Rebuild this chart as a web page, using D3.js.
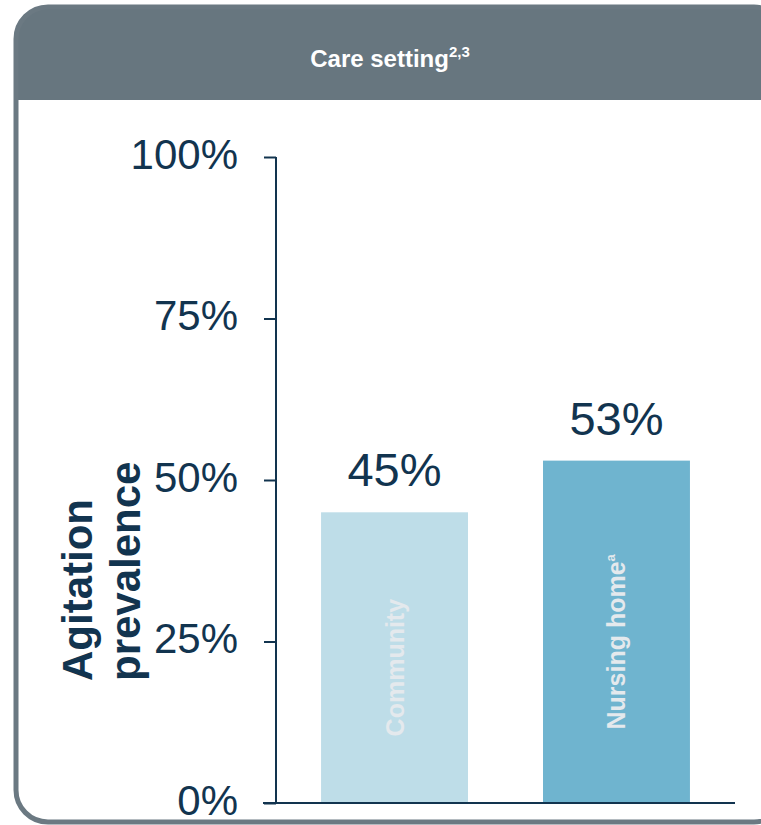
<!DOCTYPE html>
<html>
<head>
<meta charset="utf-8">
<script src="https://cdn.jsdelivr.net/npm/d3@7"></script>
<style>
  html, body { margin: 0; padding: 0; background: #fff; }
  svg { display: block; font-family: "Liberation Sans", Arial, sans-serif; }
</style>
</head>
<body>
<div id="chart"></div>
<script>
const categories = ["Community", "Nursing home"];
const superscripts = ["", "a"];
const values = [45, 53];
const yTicks = [0, 25, 50, 75, 100];
const barColors = ["#bedde8", "#6fb4cf"];

const width = 761, height = 825;
const navy = "#12344f";

const svg = d3.select("#chart")
  .append("svg")
  .attr("width", width)
  .attr("height", height);

// card with rounded border
const card = { x: 16, y: 7, w: 770, h: 815, r: 32 };

svg.append("clipPath").attr("id", "card")
  .append("rect")
  .attr("x", card.x).attr("y", card.y)
  .attr("width", card.w).attr("height", card.h)
  .attr("rx", card.r);

svg.append("rect")
  .attr("x", card.x).attr("y", card.y)
  .attr("width", card.w).attr("height", card.h)
  .attr("rx", card.r)
  .attr("fill", "#fff");

svg.append("rect")
  .attr("clip-path", "url(#card)")
  .attr("x", 0).attr("y", 0)
  .attr("width", width).attr("height", 100)
  .attr("fill", "#67767f");

svg.append("rect")
  .attr("x", card.x).attr("y", card.y)
  .attr("width", card.w).attr("height", card.h)
  .attr("rx", card.r)
  .attr("fill", "none")
  .attr("stroke", "#6b7982")
  .attr("stroke-width", 5);

const title = svg.append("text")
  .attr("x", 390)
  .attr("y", 67)
  .attr("text-anchor", "middle")
  .attr("fill", "#fff")
  .attr("font-weight", "bold")
  .attr("font-size", 24)
  .text("Care setting");
title.append("tspan")
  .attr("font-size", 15)
  .attr("dy", -10)
  .text("2,3");

const x = d3.scaleBand()
  .domain(categories)
  .range([276, 735])
  .paddingInner(0.338)
  .paddingOuter(0.203);

const y = d3.scaleLinear()
  .domain([0, 100])
  .range([803, 157]);

// bars
svg.append("g")
  .selectAll("rect")
  .data(categories)
  .join("rect")
  .attr("x", d => x(d))
  .attr("y", (d, i) => y(values[i]))
  .attr("width", x.bandwidth())
  .attr("height", (d, i) => y(0) - y(values[i]))
  .attr("fill", (d, i) => barColors[i]);

// value labels
svg.append("g")
  .selectAll("text")
  .data(categories)
  .join("text")
  .attr("x", d => x(d) + x.bandwidth() / 2)
  .attr("y", (d, i) => y(values[i]) - 26)
  .attr("text-anchor", "middle")
  .attr("font-size", 47)
  .attr("fill", navy)
  .text((d, i) => values[i] + "%");

// category labels inside bars
const catLabels = svg.append("g")
  .selectAll("text")
  .data(categories)
  .join("text")
  .attr("transform", (d, i) => {
    const cx = x(d) + x.bandwidth() / 2 + 9;
    const cy = (y(values[i]) + y(0)) / 2 + 10;
    return `translate(${cx},${cy}) rotate(-90)`;
  })
  .attr("text-anchor", "middle")
  .attr("font-weight", "bold")
  .attr("font-size", 25)
  .attr("fill", "#e4e9ed")
  .text(d => d);
catLabels.append("tspan")
  .attr("font-size", 13)
  .attr("dy", -10)
  .text((d, i) => superscripts[i]);

// axes
const yAxis = svg.append("g")
  .attr("transform", "translate(276,0)")
  .call(d3.axisLeft(y)
    .tickValues(yTicks)
    .tickSize(12)
    .tickPadding(26)
    .tickFormat(d => d + "%"));
yAxis.select(".domain").attr("stroke", navy).attr("stroke-width", 2)
  .attr("d", `M0,${y(100)}V${y(0)}`);
yAxis.selectAll(".tick line").attr("stroke", navy).attr("stroke-width", 2);
yAxis.selectAll(".tick text")
  .attr("font-size", 42)
  .attr("fill", navy)
  .attr("font-family", "'Liberation Sans', Arial, sans-serif")
  .attr("dy", "0.27em");

svg.append("line")
  .attr("x1", 263).attr("x2", 735)
  .attr("y1", y(0)).attr("y2", y(0))
  .attr("stroke", navy)
  .attr("stroke-width", 2);

// y axis title
const yTitle = svg.append("text")
  .attr("transform", "translate(92,681) rotate(-90)")
  .attr("font-weight", "bold")
  .attr("font-size", 42)
  .attr("fill", navy);
yTitle.append("tspan").attr("x", 0).attr("y", 0).text("Agitation");
yTitle.append("tspan").attr("x", 0).attr("y", 48).text("prevalence");
</script>
</body>
</html>
